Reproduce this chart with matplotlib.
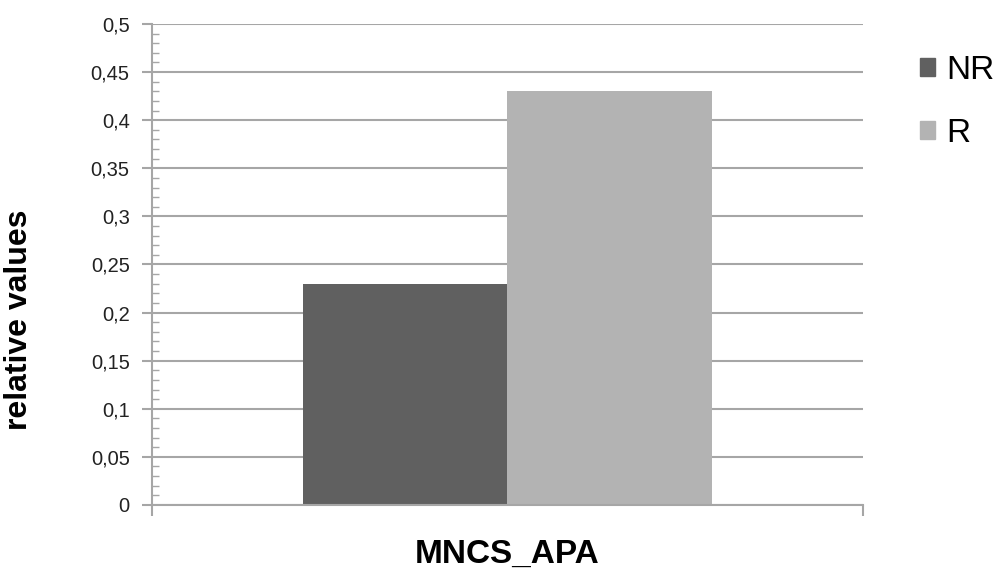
import matplotlib.pyplot as plt
from matplotlib.ticker import MultipleLocator, FuncFormatter
from matplotlib.patches import Patch

plt.rcParams['font.family'] = ['Liberation Sans', 'DejaVu Sans']

# data
category = ["MNCS_APA"]
groups = ["NR", "R"]
values = [0.23, 0.43]
colors = ["#606060", "#b3b3b3"]

fig = plt.figure(figsize=(10.03, 5.85), dpi=100)
ax = fig.add_axes([0.1515, 0.1368, 0.7089, 0.8222])

width = 0.287
offsets = [-width / 2, width / 2]
for g, v, c, off in zip(groups, values, colors, offsets):
    ax.bar(0 + off, v, width=width, color=c, label=g, zorder=2)

ax.set_xlim(-0.5, 0.5)
ax.set_ylim(0, 0.5)
ax.yaxis.set_major_locator(MultipleLocator(0.05))
ax.yaxis.set_minor_locator(MultipleLocator(0.01))
ax.yaxis.set_major_formatter(FuncFormatter(lambda y, _: f"{y:.2f}".rstrip("0").rstrip(".").replace(".", ",") if y else "0"))
ax.grid(axis="y", color="#a6a6a6", linewidth=1.5, zorder=0)
ax.set_axisbelow(True)

for s in ["top", "right"]:
    ax.spines[s].set_visible(False)
ax.spines["left"].set_color("#a6a6a6")
ax.spines["left"].set_linewidth(1.5)
ax.spines["bottom"].set_color("#a6a6a6")
ax.spines["bottom"].set_linewidth(1.5)

ax.tick_params(axis="y", which="major", length=7, width=1.5, color="#a6a6a6",
               labelsize=14.5, labelcolor="#222222", pad=9)
ax.tick_params(axis="y", which="minor", direction="in", length=5, width=1, color="#a6a6a6")
ax.set_xticks([-0.5, 0.5])
ax.set_xticklabels(["", ""])
ax.tick_params(axis="x", length=8, width=1.5, color="#a6a6a6")

ax.set_ylabel("relative values", fontsize=23, fontweight="bold")
ax.yaxis.set_label_coords(-0.166, 0.385)
ax.set_xlabel(category[0], fontsize=24, fontweight="bold", labelpad=13)

handles = [Patch(color=c, label=g) for g, c in zip(groups, colors)]
fig.legend(handles=handles, loc="upper left", bbox_to_anchor=(0.917, 0.906),
           frameon=False, fontsize=24, handlelength=0.45, handleheight=0.45,
           handletextpad=0.35, labelspacing=0.97, borderpad=0, borderaxespad=0)

plt.savefig("out.png", dpi=100)
